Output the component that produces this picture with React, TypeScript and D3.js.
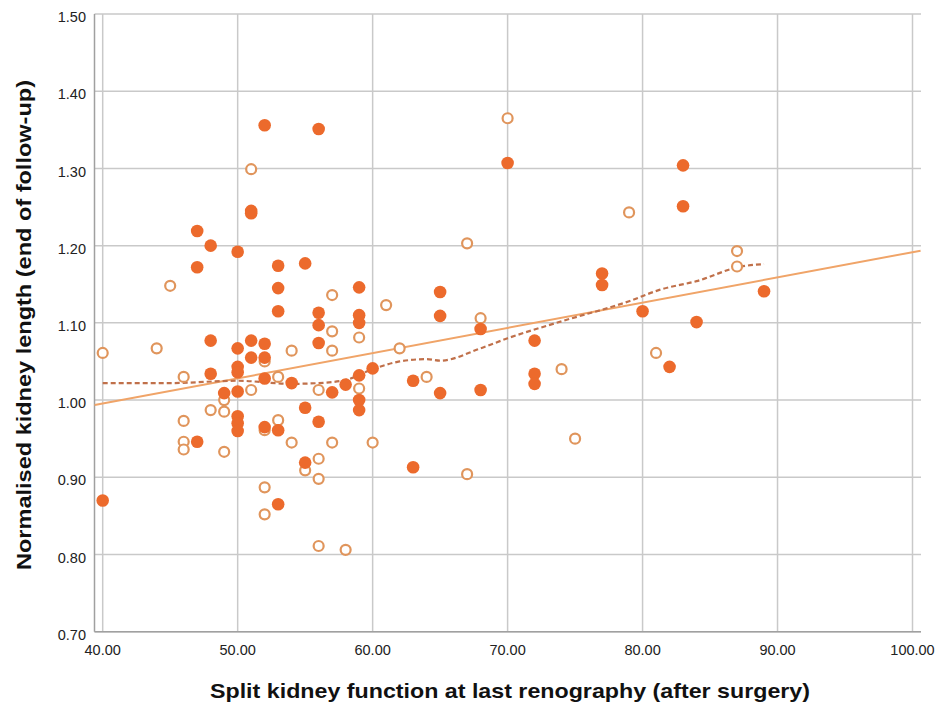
import { scaleLinear, line, curveMonotoneX } from 'd3'

const width = 939
const height = 705

// plot frame, in page pixels
const frame = { left: 94.5, right: 921, top: 14, bottom: 631.7 }

const xTicks = [40, 50, 60, 70, 80, 90, 100]
const yTicks = [0.7, 0.8, 0.9, 1.0, 1.1, 1.2, 1.3, 1.4, 1.5]

// filled markers
const filledX = [
  40, 47, 47, 47, 48, 48, 48, 49, 50, 50, 50, 50, 50, 50, 50, 50, 51, 51, 51, 51,
  52, 52, 52, 52, 52, 53, 53, 53, 53, 53, 54, 55, 55, 55, 56, 56, 56, 56, 56, 57,
  58, 59, 59, 59, 59, 59, 59, 60, 63, 63, 65, 65, 65, 68, 68, 70, 72, 72, 72, 77,
  77, 80, 82, 83, 83, 84, 89,
]
const filledY = [
  0.87, 1.219, 1.172, 0.946, 1.2, 1.077, 1.034, 1.009, 1.192, 1.067, 1.043, 1.036,
  1.011, 0.979, 0.97, 0.96, 1.245, 1.242, 1.077, 1.055, 1.356, 1.073, 1.055, 1.028,
  0.965, 1.174, 1.145, 1.115, 0.961, 0.865, 1.022, 1.177, 0.99, 0.919, 1.351, 1.113,
  1.097, 1.074, 0.972, 1.01, 1.02, 1.146, 1.11, 1.1, 1.032, 1.0, 0.987, 1.041, 1.025,
  0.913, 1.14, 1.109, 1.009, 1.092, 1.013, 1.307, 1.077, 1.034, 1.021, 1.164, 1.149,
  1.115, 1.043, 1.304, 1.251, 1.101, 1.141,
]

// hollow markers
const openX = [
  40, 44, 45, 46, 46, 46, 46, 48, 49, 49, 49, 51, 51, 52, 52, 52, 52, 53, 53, 54,
  54, 55, 56, 56, 56, 56, 57, 57, 57, 57, 58, 59, 59, 60, 61, 62, 64, 67, 67, 68,
  70, 74, 75, 79, 81, 87, 87,
]
const openY = [
  1.061, 1.067, 1.148, 1.03, 0.973, 0.946, 0.936, 0.987, 1.0, 0.985, 0.933, 1.299,
  1.013, 1.05, 0.961, 0.887, 0.852, 1.03, 0.974, 1.064, 0.945, 0.909, 1.013, 0.924,
  0.898, 0.811, 1.136, 1.089, 1.064, 0.945, 0.806, 1.081, 1.015, 0.945, 1.123, 1.067,
  1.03, 1.203, 0.904, 1.106, 1.365, 1.04, 0.95, 1.243, 1.061, 1.193, 1.173,
]

// linear fit
const fitX = [39.4, 100.6]
const fitY = [0.9935, 1.1935]

// loess curve
const loessX = [40, 45, 50, 54, 56, 58, 60, 62, 64, 65, 68, 70, 74, 79, 81.3, 84, 87.3, 89]
const loessY = [
  1.022, 1.022, 1.025, 1.021, 1.022, 1.026, 1.04, 1.05, 1.053, 1.051, 1.067, 1.08,
  1.102, 1.128, 1.143, 1.154, 1.173, 1.176,
]

const font = '"Liberation Sans", Arial, sans-serif'

function App() {
  const x = scaleLinear().domain([40, 100]).range([102.7, 912.5])
  const y = scaleLinear().domain([0.7, 1.5]).range([frame.bottom, frame.top])

  const path = line<[number, number]>()
    .x((d) => x(d[0]))
    .y((d) => y(d[1]))

  const fitPath = path(fitX.map((v, i) => [v, fitY[i]]))
  const loessPath = path.curve(curveMonotoneX)(loessX.map((v, i) => [v, loessY[i]]))

  return (
    <svg
      width={width}
      height={height}
      style={{ position: 'absolute', left: 0, top: 0, background: '#fff' }}
    >
      {yTicks.map((t) => (
        <line
          key={'gy' + t}
          x1={frame.left}
          x2={frame.right}
          y1={y(t)}
          y2={y(t)}
          stroke="#c9c9c9"
          strokeWidth={1.5}
        />
      ))}
      {xTicks.map((t) => (
        <line
          key={'gx' + t}
          x1={x(t)}
          x2={x(t)}
          y1={frame.top}
          y2={frame.bottom}
          stroke="#c9c9c9"
          strokeWidth={1.5}
        />
      ))}
      <line x1={frame.left} x2={frame.left} y1={frame.top} y2={frame.bottom} stroke="#a0a0a0" strokeWidth={1.5} />
      <line x1={frame.left} x2={frame.right} y1={frame.bottom} y2={frame.bottom} stroke="#a0a0a0" strokeWidth={1.5} />

      {yTicks.map((t) => (
        <text
          key={'ly' + t}
          x={86}
          y={y(t) + 3}
          dy=".35em"
          textAnchor="end"
          fontFamily={font}
          fontSize={14.5}
          fill="#222"
        >
          {t.toFixed(2)}
        </text>
      ))}
      {xTicks.map((t) => (
        <text
          key={'lx' + t}
          x={x(t)}
          y={655}
          textAnchor="middle"
          fontFamily={font}
          fontSize={14.5}
          fill="#222"
        >
          {t.toFixed(2)}
        </text>
      ))}

      <text
        x={510}
        y={698}
        textAnchor="middle"
        fontFamily={font}
        fontSize={21}
        fontWeight="bold"
        fill="#111"
        textLength={600}
        lengthAdjust="spacingAndGlyphs"
      >
        Split kidney function at last renography (after surgery)
      </text>
      <text
        transform="rotate(-90)"
        x={-325}
        y={31}
        textAnchor="middle"
        fontFamily={font}
        fontSize={21}
        fontWeight="bold"
        fill="#111"
        textLength={490}
        lengthAdjust="spacingAndGlyphs"
      >
        Normalised kidney length (end of follow-up)
      </text>

      <path d={fitPath ?? ''} fill="none" stroke="#f0a468" strokeWidth={2} />
      <path d={loessPath ?? ''} fill="none" stroke="#c0704a" strokeWidth={2.2} strokeDasharray="5,3" />

      {openX.map((v, i) => (
        <circle
          key={'o' + i}
          cx={x(v)}
          cy={y(openY[i])}
          r={5}
          fill="#fff"
          stroke="#e0955c"
          strokeWidth={2.2}
        />
      ))}
      {filledX.map((v, i) => (
        <circle key={'f' + i} cx={x(v)} cy={y(filledY[i])} r={6.3} fill="#ec6a2c" />
      ))}
    </svg>
  )
}

export default App
